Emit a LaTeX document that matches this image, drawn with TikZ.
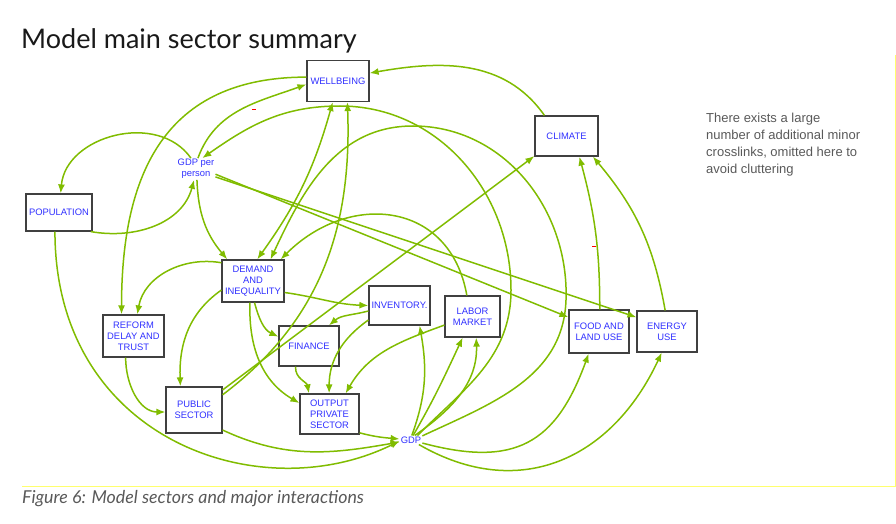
\documentclass[tikz,border=0pt]{standalone}
\usepackage{fontspec}
\setmainfont{Liberation Sans}
\newfontfamily\latofont{Lato}
\usetikzlibrary{arrows.meta}
\definecolor{lnk}{RGB}{128,188,0}
\definecolor{nametxt}{RGB}{48,48,255}
\definecolor{notegray}{RGB}{89,89,89}
\definecolor{rulecol}{RGB}{255,255,110}
\newcommand{\secfont}{\fontsize{9.4}{10.8}\selectfont}
\newcommand{\ttlfont}{\latofont\fontsize{27}{30}\selectfont}

\begin{document}
\begin{tikzpicture}[
  x=1pt, y=1pt,
  sec/.style  = {draw=black!75, line width=1.2pt, align=center, text=nametxt, font=\secfont, inner sep=1pt},
  lbl/.style  = {align=center, text=nametxt, font=\secfont, inner sep=1pt},
  ln/.style   = {-{Latex[length=9pt,width=7pt]}, draw=lnk, line width=1.5pt},
  bln/.style  = {{Latex[length=9pt,width=7pt]}-{Latex[length=9pt,width=7pt]}, draw=lnk, line width=1.5pt}
]
\useasboundingbox (0,0) rectangle (896,-524);

% ---------- title, note, caption -------------------------------------
\node[anchor=base west, inner sep=0pt, font=\ttlfont, text=black!90] (title) at (21,-49) {Model main sector summary};
\node[anchor=north west, align=left, inner sep=0pt, text=notegray, font=\fontsize{13}{17}\selectfont] (note) at (706,-113)
  {There exists a large\\number of additional minor\\crosslinks, omitted here to\\avoid cluttering};
\node[anchor=base west, inner sep=0pt, text=notegray, font=\latofont\itshape\fontsize{17.8}{20}\selectfont] (caption) at (22,-503)
  {Figure 6: Model sectors and major interactions};
\draw[rulecol, line width=1pt] (22,-486) -- (895,-486) -- (895,-55);

% ---------- sectors -----------------------------------------------------
\node[sec, minimum width=62pt, minimum height=41pt] (wellbeing)  at (338,-81)    {WELLBEING};
\node[sec, minimum width=63pt, minimum height=40pt] (climate)    at (566.5,-136) {CLIMATE};
\node[lbl]                                          (gdppp)      at (196,-169)   {GDP per\\person};
\node[sec, minimum width=66pt, minimum height=37pt] (population) at (59,-212.5)  {POPULATION};
\node[sec, minimum width=62pt, minimum height=42pt] (demand)     at (253,-281)   {DEMAND\\AND\\INEQUALITY};
\node[sec, minimum width=61pt, minimum height=39pt] (inventory)  at (399.5,-305.5) {INVENTORY.};
\node[sec, minimum width=55pt, minimum height=41pt] (labor)      at (472.5,-316.5) {LABOR\\MARKET};
\node[sec, minimum width=60pt, minimum height=43pt] (food)       at (599,-331.5) {FOOD AND\\LAND USE};
\node[sec, minimum width=60pt, minimum height=41pt] (energy)     at (667,-331.5) {ENERGY\\USE};
\node[sec, minimum width=61pt, minimum height=42pt] (reform)     at (133.5,-336) {REFORM\\DELAY AND\\TRUST};
\node[sec, minimum width=60pt, minimum height=40pt] (finance)    at (309,-346)   {FINANCE};
\node[sec, minimum width=56pt, minimum height=46pt] (public)     at (194,-410)   {PUBLIC\\SECTOR};
\node[sec, minimum width=59pt, minimum height=40pt] (output)     at (329.5,-414) {OUTPUT\\PRIVATE\\SECTOR};
\node[lbl]                                          (gdp)        at (411,-440)   {GDP};

% ---------- GDP per person ----------------------------------------------
\draw[ln] (gdppp.80) to[out=70,in=200] (wellbeing.186);
\draw[ln] (gdppp.115) to[out=125,in=85,looseness=1.1] (population.85);
\draw[ln] (population.-31) to[out=-10,in=-105] (gdppp.-100);
\draw[ln] (gdppp.-85) to[out=-88,in=130] (demand.140);
\foreach \n/\a in {food/-15, energy/-22}{\draw[ln] (gdppp.\a) -- (\n.155);}

% ---------- wellbeing and climate ---------------------------------------
\draw[ln] (wellbeing.173) to[out=180,in=90,looseness=1.2] (reform.119);
\draw[bln] (wellbeing.-104) to[bend left=10] (demand.79);
\draw[ln] (climate.137) to[out=125,in=10] (wellbeing.14);
\draw[ln] (food.88) to[out=90,in=-75] (climate.-58);
\draw[ln] (energy.95) to[out=100,in=-50] (climate.-38);

% ---------- public sector and reform ------------------------------------
\draw[ln] (public.35) -- (climate.212);
\draw[ln] (public.28) to[out=37,in=-88] (wellbeing.-66);
\draw[ln] (reform.-110) to[out=-90,in=180] (public.184);

% ---------- demand --------------------------------------------------------
\draw[ln] (demand.150) to[out=170,in=80] (reform.80);
\draw[ln] (demand.196) to[out=215,in=92] (public.120);
\draw[ln] (demand.-20) to[out=-8,in=178] (inventory.180);
\draw[ln] (demand.-86) to[out=-75,in=155] (finance.163);
\draw[ln] (demand.-98) to[out=-92,in=150] (output.160);

% ---------- inventory, finance, labor -----------------------------------
\draw[ln] (inventory.190) to[out=195,in=40] (finance.46);
\draw[ln] (inventory.205) to[out=215,in=90] (output.91);
\draw[ln] (finance.-123) to[out=-95,in=100] (output.135);
\draw[ln] (labor.197) to[out=200,in=60] (output.52);
\draw[ln] (labor.105) to[out=100,in=45,looseness=1.3] (demand.38);

% ---------- into GDP ------------------------------------------------------
\draw[ln] (output.-32) to[out=-15,in=175] (gdp.175);
\draw[ln] (public.-35) to[out=-25,in=190] (gdp.190);
\draw[ln] (population.-102) .. controls (55,-440) and (260,-510) .. (gdp.185);

% ---------- out of GDP ----------------------------------------------------
\draw[ln] (gdp.80) to[out=70,in=-80] (inventory.-45);
\draw[ln] (gdp.65) to[out=60,in=-115] (labor.-115);
\draw[ln] (gdp.50) to[out=35,in=-88] (labor.-80);
\draw[ln] (gdp.-15) to[out=-15,in=-110,looseness=1.3] (food.-115);
\draw[ln] (gdp.-30) to[out=-30,in=-115,looseness=1.15] (energy.-104);
\draw[ln] (gdp.35) to[out=45,in=-90] (511,-290) to[out=90,in=0] (340,-106) to[out=180,in=35] (gdppp.60);
\draw[ln] (gdp.20) to[out=25,in=-92] (566,-300) to[out=88,in=0] (413,-126) to[out=180,in=65] (demand.51);

% ---------- polarity marks ------------------------------------------------
\draw[red, line width=1pt] (252,-110) -- (256,-110);
\draw[red, line width=1pt] (592,-246) -- (596,-246);

\end{tikzpicture}
\end{document}
